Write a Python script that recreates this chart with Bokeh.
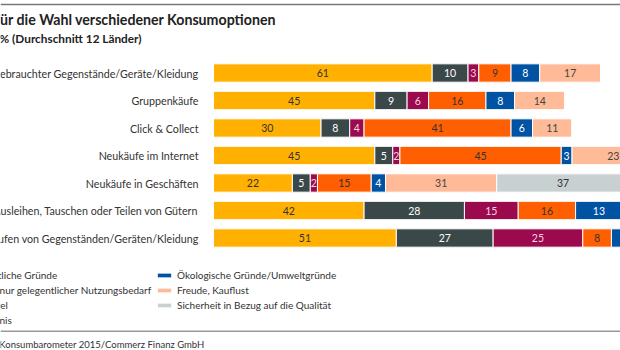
import numpy as np
from bokeh.plotting import figure
from bokeh.models import ColumnDataSource, Range1d, Label, Span, Legend, LegendItem
from bokeh.core.properties import value
from bokeh.embed import file_html
from bokeh.resources import INLINE

# ---------------- data ----------------
categories = [
    "Kauf gebrauchter Gegenstände/Geräte/Kleidung",
    "Gruppenkäufe",
    "Click & Collect",
    "Neukäufe im Internet",
    "Neukäufe in Geschäften",
    "Ausleihen, Tauschen oder Teilen von Gütern",
    "Verkaufen von Gegenständen/Geräten/Kleidung",
]
series_names = [
    "Wirtschaftliche Gründe",
    "Kein oder nur gelegentlicher Nutzungsbedarf",
    "Platzmangel",
    "Zeitersparnis",
    "Ökologische Gründe/Umweltgründe",
    "Freude, Kauflust",
    "Sicherheit in Bezug auf die Qualität",
]
wirtschaftlich = [61, 45, 30, 45, 22, 42, 51]
nutzungsbedarf = [10, 9, 8, 5, 5, 28, 27]
platzmangel = [3, 6, 4, 2, 2, 15, 25]
zeitersparnis = [9, 16, 41, 45, 15, 16, 8]
oekologisch = [8, 8, 6, 3, 4, 13, 9]
freude = [17, 14, 11, 23, 31, 12, 10]
sicherheit = [0, 0, 0, 14, 37, 9, 7]

title_text = "Gründe für die Wahl verschiedener Konsumoptionen"
subtitle_text = "Angaben in % (Durchschnitt 12 Länder)"
source_text = "Quelle: Cetelem, Europäischen Konsumbarometer 2015/Commerz Finanz GmbH"

# ---------------- styles ----------------
colors = ["#FFB000", "#3B4849", "#9A0A4C", "#FF5F00", "#0052A2", "#FFBA98", "#C9D0D1"]
text_colors = ["#333333", "#FFFFFF", "#F2D6E2", "#333333", "#FFFFFF", "#444444", "#333333"]
FONT = "Lato"

values = [wirtschaftlich, nutzungsbedarf, platzmangel, zeitersparnis,
          oekologisch, freude, sicherheit]
keys = ["s%d" % i for i in range(len(values))]
n = len(categories)
ys = list(range(n))

data = {"y": ys, "x0": [0] * n, "cat": categories}
for k, v in zip(keys, values):
    data[k] = v
source = ColumnDataSource(data)

# pixel layout: bars start at x=213 px, 3.585 px per percent; rows 27.5 px apart, first at 72.5 px
PX_PER_UNIT = 3.585
X0_PX = 213.0
ROW_PX = 27.5
ROW0_PX = 72.5
W, H = 620, 350
x_range = Range1d(-X0_PX / PX_PER_UNIT, (W - X0_PX) / PX_PER_UNIT)
y_range = Range1d((H - ROW0_PX) / ROW_PX, -ROW0_PX / ROW_PX)

p = figure(width=W, height=H, x_range=x_range, y_range=y_range,
           output_backend="svg", toolbar_location=None,
           x_axis_type=None, y_axis_type=None, min_border=0,
           min_border_left=0, min_border_right=0, min_border_top=0, min_border_bottom=0,
           outline_line_color=None, background_fill_color="white",
           border_fill_color="white")

bars = p.hbar_stack(keys, y="y", height=0.667, color=colors, line_color="white",
                    line_width=1, source=source)

# value labels (only those whose centre falls inside the visible range)
arr = np.array(values, dtype=float)
cum = np.cumsum(arr, axis=0)
for i in range(len(values)):
    left = cum[i] - arr[i]
    centers = left + arr[i] / 2.0
    mask = (arr[i] > 0) & (centers < x_range.end)
    lab_src = ColumnDataSource(dict(
        x=centers[mask].tolist(),
        y=np.array(ys)[mask].tolist(),
        t=[str(int(v)) for v in arr[i][mask]],
    ))
    p.text(x="x", y="y", text="t", source=lab_src, text_align="center",
           text_baseline="middle", text_font=value(FONT), text_font_size="10.5px",
           text_color=text_colors[i])

# category labels
p.text(x="x0", y="y", text="cat", source=source, x_offset=-15, text_align="right",
       text_baseline="middle", text_font=value(FONT), text_font_size="10.7px",
       text_color="#333333")

# titles / source
p.add_layout(Label(x=276, y=H - 19, x_units="screen", y_units="screen", text=title_text,
                   text_align="right", text_baseline="middle", text_font=FONT,
                   text_font_size="14.2px", text_font_style="bold", text_color="#222222"))
p.add_layout(Label(x=141, y=H - 37.5, x_units="screen", y_units="screen", text=subtitle_text,
                   text_align="right", text_baseline="middle", text_font=FONT,
                   text_font_size="11.8px", text_font_style="bold", text_color="#222222"))
p.add_layout(Label(x=204, y=H - 343.5, x_units="screen", y_units="screen", text=source_text,
                   text_align="right", text_baseline="middle", text_font=FONT,
                   text_font_size="9.5px", text_color="#333333"))

# rules
p.add_layout(Span(location=H - 4, location_units="screen", dimension="width",
                  line_color="#777777", line_width=1.5))
p.add_layout(Span(location=H - 330.7, location_units="screen", dimension="width",
                  line_color="#999999", line_width=1.5))

# legends (two columns)
def make_legend(idx, loc):
    return Legend(items=[LegendItem(label=series_names[i], renderers=[bars[i]]) for i in idx],
                  location=loc, orientation="vertical", glyph_width=18, glyph_height=6,
                  label_height=12, spacing=3, label_standoff=4, padding=0, margin=0,
                  border_line_color=None, background_fill_alpha=0,
                  label_text_font=FONT, label_text_font_size="10px",
                  label_text_color="#333333")

p.add_layout(make_legend([0, 1, 2, 3], (-67, 24)))
p.add_layout(make_legend([4, 5, 6], (155, 39)))

open("out.html", "w").write(file_html(p, INLINE))
